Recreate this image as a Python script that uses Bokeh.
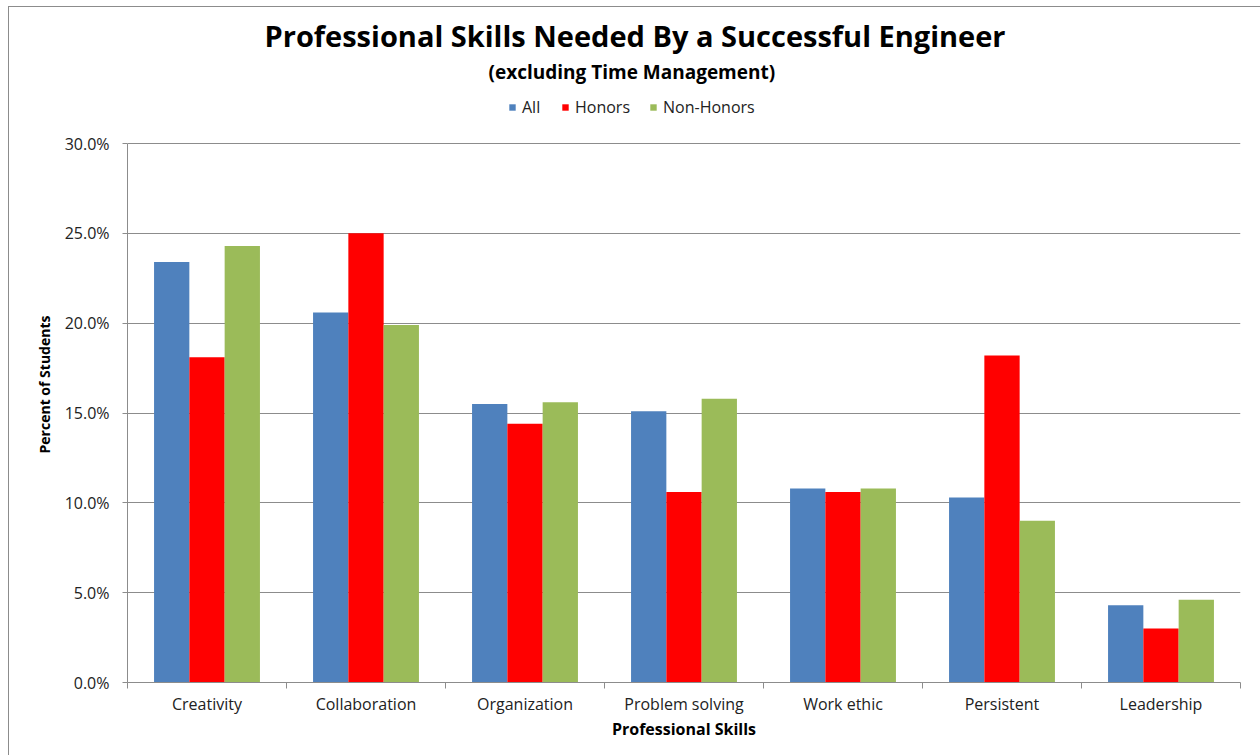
from bokeh.plotting import figure
from bokeh.models import (Title, Legend, LegendItem, FixedTicker, PrintfTickFormatter,
                          Range1d, ColumnDataSource)
from bokeh.transform import dodge
from bokeh.embed import file_html
from bokeh.resources import INLINE

skills = ["Creativity", "Collaboration", "Organization", "Problem solving",
          "Work ethic", "Persistent", "Leadership"]
series = ["All", "Honors", "Non-Honors"]
all_pct = [23.4, 20.6, 15.5, 15.1, 10.8, 10.3, 4.3]
honors_pct = [18.1, 25.0, 14.4, 10.6, 10.6, 18.2, 3.0]
nonhonors_pct = [24.3, 19.9, 15.6, 15.8, 10.8, 9.0, 4.6]
colors = ["#4F81BD", "#FF0000", "#9BBB59"]
y_ticks = [0, 5, 10, 15, 20, 25, 30]

FONT = "Open Sans"
GRID = "#8c8c8c"

centers = [i + 0.5 for i in range(len(skills))]
src = ColumnDataSource(dict(center=centers, skill=skills, All=all_pct,
                            Honors=honors_pct, NonHonors=nonhonors_pct))

# frame extends above the 30% line to host the legend (legend is clipped to frame)
FRAME_H = 596
y_top = y_ticks[-1] * FRAME_H / 539.0

p = figure(frame_width=1113, frame_height=FRAME_H,
           output_backend="svg", toolbar_location=None,
           x_range=Range1d(0, len(skills)), y_range=Range1d(y_ticks[0], y_top),
           title_location=None,
           min_border_left=118, min_border_right=20, min_border_bottom=73,
           min_border_top=79)
p.margin = (6, 0, 0, 8)
p.styles = {"border-left": "1px solid #8c8c8c", "border-top": "1px solid #8c8c8c"}
p.outline_line_color = None
p.background_fill_color = "white"
p.border_fill_color = "white"

bw = 0.222
fields = ["All", "Honors", "NonHonors"]
renderers = []
for k, (f, c) in enumerate(zip(fields, colors)):
    r = p.vbar(x=dodge("center", (k - 1) * bw, range=p.x_range), top=f, width=bw,
               bottom=0, source=src, fill_color=c, line_color=None)
    renderers.append(r)

# grid
p.xgrid.visible = False
p.ygrid.ticker = FixedTicker(ticks=y_ticks)
p.ygrid.grid_line_color = GRID
p.ygrid.grid_line_width = 1

# x axis
xa = p.xaxis[0]
xa.ticker = FixedTicker(ticks=centers, minor_ticks=list(range(len(skills) + 1)))
xa.major_label_overrides = {c: s for c, s in zip(centers, skills)}
xa.major_tick_line_color = None
xa.major_tick_out = 0
xa.major_tick_in = 0
xa.minor_tick_line_color = GRID
xa.minor_tick_out = 6
xa.minor_tick_in = 0
xa.axis_line_color = GRID
xa.major_label_text_font = FONT
xa.major_label_text_font_size = "16px"
xa.major_label_text_color = "#222222"
xa.major_label_standoff = 4
xa.axis_label = "Professional Skills"
xa.axis_label_text_font = FONT
xa.axis_label_text_font_size = "16px"
xa.axis_label_text_font_style = "bold"
xa.axis_label_text_color = "black"
xa.axis_label_standoff = 0

# y axis
ya = p.yaxis[0]
ya.ticker = FixedTicker(ticks=y_ticks)
ya.bounds = (y_ticks[0], y_ticks[-1])
ya.formatter = PrintfTickFormatter(format="%.1f%%")
ya.major_tick_out = 5
ya.major_tick_in = 0
ya.major_tick_line_color = GRID
ya.minor_tick_line_color = None
ya.axis_line_color = GRID
ya.major_label_text_font = FONT
ya.major_label_text_font_size = "16px"
ya.major_label_text_color = "#222222"
ya.major_label_standoff = 13
ya.axis_label = "Percent of Students"
ya.axis_label_text_font = FONT
ya.axis_label_text_font_size = "14px"
ya.axis_label_text_font_style = "bold"
ya.axis_label_text_color = "black"
ya.axis_label_standoff = 8

legend = Legend(items=[LegendItem(label=s, renderers=[r]) for s, r in zip(series, renderers)],
                orientation="horizontal", location=(381, 564),
                glyph_width=8, glyph_height=8, label_standoff=6, spacing=19,
                label_text_font=FONT, label_text_font_size="16px",
                label_text_color="#222222",
                border_line_color=None, background_fill_alpha=0,
                padding=4, margin=0)
p.add_layout(legend, "center")

sub = Title(text="(excluding Time Management)", align="left", offset=361,
            text_font=FONT, text_font_size="19px", text_font_style="bold",
            text_color="black", standoff=4)
p.add_layout(sub, "above")
ttl = Title(text="Professional Skills Needed By a Successful Engineer", align="left",
            offset=137, text_font=FONT, text_font_size="29px", text_font_style="bold",
            text_color="black", standoff=0)
p.add_layout(ttl, "above")

open("out.html", "w").write(file_html(p, INLINE))
